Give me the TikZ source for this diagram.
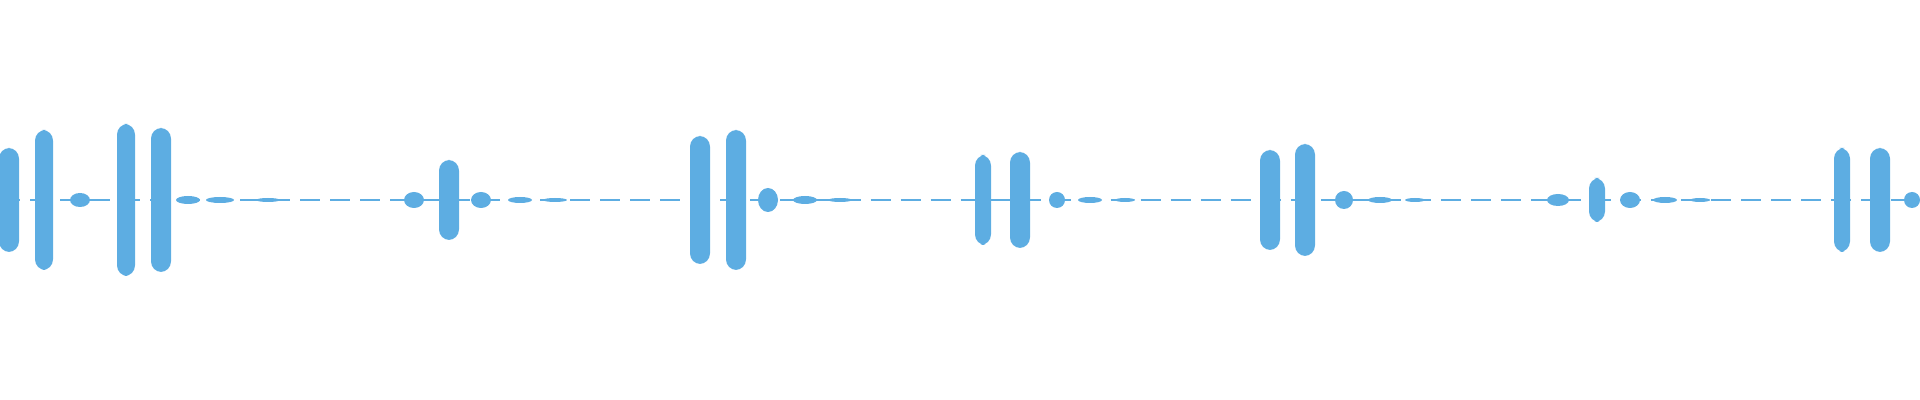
\documentclass[tikz,border=0pt]{standalone}
\definecolor{wave}{HTML}{5DADE2}
\tikzset{blob/.style={fill=wave,draw=none,rounded corners=3pt}, tail/.style={fill=wave,draw=none}, axisline/.style={wave,line width=0.5pt,dash pattern=on 0.2cm off 0.1cm}}
\begin{document}
\begin{tikzpicture}[x=0.01cm,y=0.01cm]
    \useasboundingbox (0,0) rectangle (1920,400);
    % Baseline
    \draw [axisline] (0,200) to (1920,200);
    % Bursts: centre x / half width / half height
    \foreach \cx/\hw/\hh in {9/10/52, 44/9/70, 126/9/76, 161/10/72,
        449/10/40, 700/10/64, 736/10/70, 983/8/45, 1020/10/48,
        1270/10/50, 1305/10/56, 1597/8/22, 1842/8/52, 1880/10/52} {
        \fill [blob] (\cx-\hw,200-\hh) rectangle (\cx+\hw,200+\hh);
    }
    % Tails
    \foreach \cx/\hw/\hh in {80/10/7, 188/12/4, 220/14/3, 268/12/2,
        414/10/8, 481/10/8, 520/12/3, 555/12/2,
        768/10/12, 805/12/4, 840/12/2, 1057/8/8, 1090/12/3, 1125/10/2,
        1344/9/9, 1380/12/3, 1415/10/2, 1558/11/6, 1630/10/8, 1665/12/3,
        1700/10/2, 1912/8/8} {
        \fill [tail] (\cx,200) ellipse [x radius=\hw, y radius=\hh];
    }
\end{tikzpicture}
\end{document}
